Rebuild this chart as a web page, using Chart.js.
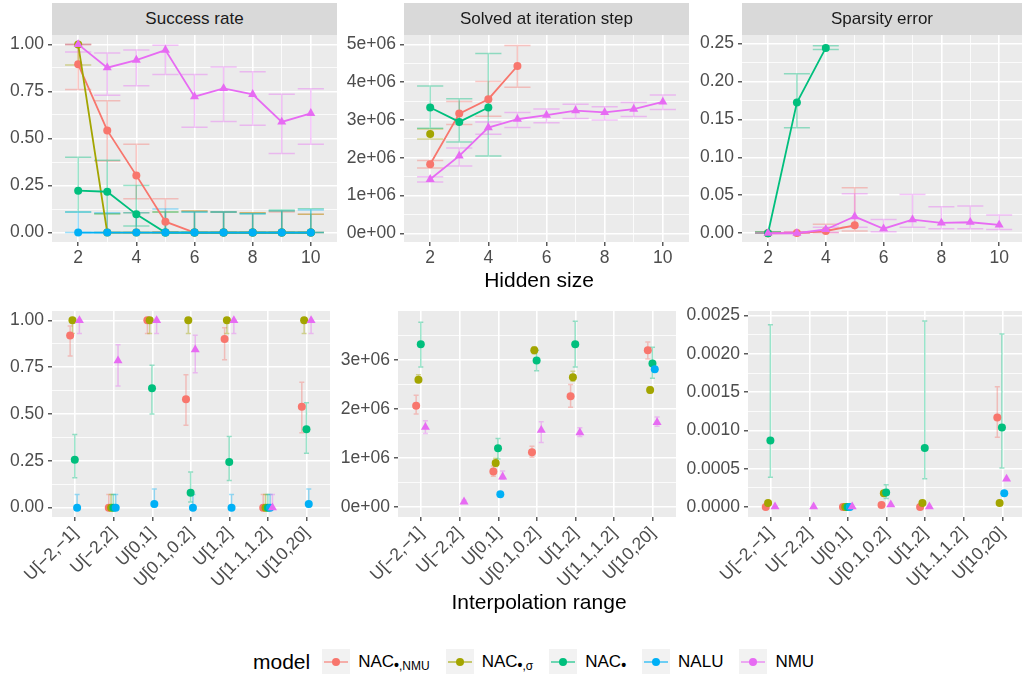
<!DOCTYPE html>
<html>
<head>
<meta charset="utf-8">
<script src="https://cdn.jsdelivr.net/npm/chart.js@4.4.1/dist/chart.umd.min.js"></script>
<style>
  body { margin: 0; background: #fff; font-family: "Liberation Sans", Arial, sans-serif; }
  #fig { position: relative; width: 1022px; height: 674px; overflow: hidden; }
  #fig canvas { position: absolute; }
  .strip { position: absolute; top: 3px; height: 32px; line-height: 32px; background: #d9d9d9; color: #1a1a1a; font-size: 17px; text-align: center; }
  .axtitle { position: absolute; font-size: 21px; line-height: 21px; color: #000; transform: translateX(-50%); white-space: nowrap; }
  #legend { position: absolute; left: 253px; top: 649px; height: 26px; display: flex; align-items: center; font-size: 17px; color: #000; }
  #legend .ltitle { font-size: 21px; margin-right: 12px; }
  #legend .key { position: relative; width: 28px; height: 26px; background: #f2f2f2; margin-right: 8px; }
  #legend .key i { position: absolute; display: block; }
  #legend .key .ln { left: 2px; right: 2px; top: 12px; height: 2px; opacity: 0.55; }
  #legend .key .dt { left: 10px; top: 9px; width: 8px; height: 8px; border-radius: 50%; }
  #legend .lab { margin-right: 16px; white-space: nowrap; }
  #legend sub { font-size: 12px; vertical-align: -3px; }
  #legend sub b { font-size: 14px; }
</style>
</head>
<body>
<div id="fig">
  <canvas id="cSucc" width="345" height="253" style="left:0;top:19px"></canvas>
  <canvas id="cStep" width="357" height="253" style="left:340px;top:19px"></canvas>
  <canvas id="cSparse" width="350" height="253" style="left:680px;top:19px"></canvas>
  <canvas id="cRangeSucc" width="338" height="307" style="left:0;top:295px"></canvas>
  <canvas id="cRangeStep" width="344" height="307" style="left:340px;top:295px"></canvas>
  <canvas id="cRangeSparse" width="350" height="307" style="left:680px;top:295px"></canvas>

  <div class="strip" style="left:52px;width:285px">Success rate</div>
  <div class="strip" style="left:404px;width:285px">Solved at iteration step</div>
  <div class="strip" style="left:742px;width:280px">Sparsity error</div>

  <div class="axtitle" style="left:539px;top:269px">Hidden size</div>
  <div class="axtitle" style="left:539px;top:591px">Interpolation range</div>

  <div id="legend">
    <span class="ltitle">model</span>
    <span class="key"><i class="ln" style="background:#F8766D"></i><i class="dt" style="background:#F8766D"></i></span>
    <span class="lab">NAC<sub><b>•</b>,NMU</sub></span>
    <span class="key"><i class="ln" style="background:#A3A500"></i><i class="dt" style="background:#A3A500"></i></span>
    <span class="lab">NAC<sub><b>•</b>,σ</sub></span>
    <span class="key"><i class="ln" style="background:#00BF7D"></i><i class="dt" style="background:#00BF7D"></i></span>
    <span class="lab">NAC<sub><b>•</b></sub></span>
    <span class="key"><i class="ln" style="background:#00B0F6"></i><i class="dt" style="background:#00B0F6"></i></span>
    <span class="lab">NALU</span>
    <span class="key"><i class="ln" style="background:#E76BF3"></i><i class="dt" style="background:#E76BF3"></i></span>
    <span class="lab">NMU</span>
  </div>
</div>

<script>
// ---- data ----
const hiddenSizes = [2, 3, 4, 5, 6, 7, 8, 9, 10];
const ranges = ['U[\u22122,\u22121]', 'U[\u22122,2]', 'U[0,1]', 'U[0.1,0.2]', 'U[1,2]', 'U[1.1,1.2]', 'U[10,20]'];
const models = ['NAC\u2022,NMU', 'NAC\u2022,\u03c3', 'NAC\u2022', 'NALU', 'NMU'];
const colors = ['#F8766D', '#A3A500', '#00BF7D', '#00B0F6', '#E76BF3'];
const dodge = [-0.13, -0.07, -0.01, 0.05, 0.11];

// one row per model, one column per hidden size
const successMean = [
    [0.894, 0.543, 0.304, 0.058, 0, 0, 0, 0, 0],
    [1, 0, 0, 0, 0, 0, 0, 0, 0],
    [0.223, 0.217, 0.097, 0, 0, 0, 0, 0, 0],
    [0, 0, 0, 0, 0, 0, 0, 0, 0],
    [1, 0.876, 0.917, 0.970, 0.722, 0.766, 0.735, 0.588, 0.634]
];
const successLo = [
    [0.76, 0.38, 0.18, 0.005, 0, 0, 0, 0, 0],
    [0.89, 0, 0, 0, 0, 0, 0, 0, 0],
    [0.11, 0.10, 0.035, 0, 0, 0, 0, 0, 0],
    [0, 0, 0, 0, 0, 0, 0, 0, 0],
    [0.96, 0.73, 0.78, 0.84, 0.56, 0.59, 0.57, 0.42, 0.47]
];
const successHi = [
    [1, 0.70, 0.47, 0.18, 0.115, 0.11, 0.105, 0.11, 0.097],
    [1, 0.10, 0.105, 0.11, 0.115, 0.11, 0.105, 0.115, 0.097],
    [0.40, 0.385, 0.25, 0.11, 0.11, 0.11, 0.10, 0.12, 0.127],
    [0.11, 0.105, 0.105, 0.125, 0.11, 0.11, 0.10, 0.115, 0.12],
    [1, 0.955, 0.97, 0.995, 0.84, 0.88, 0.855, 0.735, 0.765]
];

const stepMean = [
    [1.83e6, 3.17e6, 3.55e6, 4.43e6],
    [2.63e6],
    [3.33e6, 2.95e6, 3.33e6],
    [],
    [1.43e6, 2.05e6, 2.80e6, 3.02e6, 3.13e6, 3.25e6, 3.20e6, 3.29e6, 3.48e6]
];
const stepLo = [
    [1.73e6, 2.88e6, 3.10e6, 3.87e6],
    [2.50e6],
    [2.78e6, 2.42e6, 2.05e6],
    [],
    [1.36e6, 1.78e6, 2.62e6, 2.80e6, 2.93e6, 3.04e6, 3.00e6, 3.09e6, 3.28e6]
];
const stepHi = [
    [1.93e6, 3.49e6, 4.02e6, 4.97e6],
    [2.76e6],
    [3.90e6, 3.56e6, 4.76e6],
    [],
    [1.50e6, 2.26e6, 2.95e6, 3.20e6, 3.29e6, 3.42e6, 3.35e6, 3.46e6, 3.66e6]
];

const sparseMean = [
    [0, 0.0003, 0.003, 0.0105],
    [0],
    [0, 0.172, 0.244],
    [],
    [0, 0, 0.005, 0.022, 0.006, 0.018, 0.0136, 0.0145, 0.011]
];
const sparseLo = [
    [0, 0, 0.001, 0.003],
    [0],
    [0, 0.139, 0.242],
    [],
    [0, 0, 0.001, 0.008, 0.002, 0.008, 0.006, 0.006, 0.005]
];
const sparseHi = [
    [0.001, 0.002, 0.012, 0.060],
    [0.002],
    [0.002, 0.210, 0.247],
    [],
    [0.001, 0.002, 0.008, 0.052, 0.018, 0.051, 0.035, 0.036, 0.024]
];

// one row per model, one column per interpolation range
const rangeSuccMean = [
    [0.919, 0, 1, 0.579, 0.901, 0, 0.539],
    [1, 0, 1, 1, 1, 0, 1],
    [0.256, 0, 0.638, 0.079, 0.244, 0, 0.418],
    [0, 0, 0.02, 0, 0, 0, 0.02],
    [1, 0.785, 1, 0.844, 1, 0, 1]
];
const rangeSuccLo = [
    [0.81, 0, 0.93, 0.44, 0.79, 0, 0.40],
    [0.93, 0, 0.93, 0.93, 0.93, 0, 0.93],
    [0.16, 0, 0.50, 0.03, 0.145, 0, 0.29],
    [0, 0, 0.003, 0, 0, 0, 0.003],
    [0.93, 0.65, 0.93, 0.72, 0.93, 0, 0.93]
];
const rangeSuccHi = [
    [0.97, 0.07, 1, 0.71, 0.96, 0.07, 0.67],
    [1, 0.07, 1, 1, 1, 0.07, 1],
    [0.39, 0.07, 0.76, 0.19, 0.38, 0.07, 0.56],
    [0.07, 0.07, 0.10, 0.07, 0.07, 0.07, 0.10],
    [1, 0.87, 1, 0.92, 1, 0.07, 1]
];

const rangeStepMean = [
    [2.07e6, null, 0.73e6, 1.12e6, 2.26e6, null, 3.20e6],
    [2.60e6, null, 0.90e6, 3.20e6, 2.65e6, null, 2.39e6],
    [3.32e6, null, 1.20e6, 2.99e6, 3.32e6, null, 2.93e6],
    [null, null, 0.265e6, null, null, null, 2.81e6],
    [1.63e6, 0.11e6, 0.62e6, 1.57e6, 1.52e6, null, 1.73e6]
];
const rangeStepLo = [
    [1.90e6, null, 0.63e6, 1.02e6, 2.04e6, null, 3.02e6],
    [2.55e6, null, 0.83e6, 3.13e6, 2.57e6, null, 2.33e6],
    [2.86e6, null, 0.98e6, 2.78e6, 2.86e6, null, 2.63e6],
    [],
    [1.50e6, 0.08e6, 0.57e6, 1.32e6, 1.44e6, null, 1.65e6]
];
const rangeStepHi = [
    [2.28e6, null, 0.84e6, 1.24e6, 2.50e6, null, 3.37e6],
    [2.70e6, null, 1.00e6, 3.27e6, 2.77e6, null, 2.45e6],
    [3.77e6, null, 1.40e6, 3.20e6, 3.79e6, null, 3.26e6],
    [],
    [1.76e6, 0.14e6, 0.74e6, 1.74e6, 1.62e6, null, 1.84e6]
];

const rangeSparseMean = [
    [0, null, 0, 0.000026, 0, null, 0.00117],
    [0.000052, null, 0, 0.000179, 0.000052, null, 0.000052],
    [0.00087, null, 0, 0.00019, 0.00077, null, 0.00104],
    [null, null, 0, null, null, null, 0.000179],
    [0.000005, 0.000005, 0.000005, 0.00003, 0.000005, null, 0.000366]
];
const rangeSparseLo = [
    [null, null, null, null, null, null, 0.00091],
    [],
    [0.00039, null, null, 0.00011, 0.00037, null, 0.00051],
    [],
    []
];
const rangeSparseHi = [
    [null, null, null, null, null, null, 0.00157],
    [],
    [0.00238, null, null, 0.00029, 0.00243, null, 0.00226],
    [],
    []
];

// axis breaks and labels
const rateBreaks = [0, 0.25, 0.5, 0.75, 1];
const rateLabels = ['0.00', '0.25', '0.50', '0.75', '1.00'];
const stepBreaks = [0, 1e6, 2e6, 3e6, 4e6, 5e6];
const stepLabels = ['0e+00', '1e+06', '2e+06', '3e+06', '4e+06', '5e+06'];
const sparseBreaks = [0, 0.05, 0.1, 0.15, 0.2, 0.25];
const sparseLabels = ['0.00', '0.05', '0.10', '0.15', '0.20', '0.25'];
const rangeStepBreaks = [0, 1e6, 2e6, 3e6];
const rangeStepLabels = ['0e+00', '1e+06', '2e+06', '3e+06'];
const rangeSparseBreaks = [0, 0.0005, 0.001, 0.0015, 0.002, 0.0025];
const rangeSparseLabels = ['0.0000', '0.0005', '0.0010', '0.0015', '0.0020', '0.0025'];

// ---- plugins ----
const panelBg = {
    id: 'panelBg',
    beforeDraw(chart) {
        const { ctx, chartArea: a } = chart;
        ctx.save();
        ctx.fillStyle = '#EBEBEB';
        ctx.fillRect(a.left, a.top, a.width, a.height);
        ctx.restore();
    }
};

// errorbars, drawn under the points from each point's lo/hi
const errorBars = {
    id: 'errorBars',
    beforeDatasetsDraw(chart, args, opts) {
        const { ctx, scales: { x, y } } = chart;
        ctx.save();
        ctx.lineWidth = 1.5;
        chart.data.datasets.forEach(ds => {
            ctx.strokeStyle = ds.errColor;
            ds.data.forEach(p => {
                if (p.lo == null || p.hi == null) return;
                const px = x.getPixelForValue(p.x);
                const x0 = x.getPixelForValue(p.x - opts.cap), x1 = x.getPixelForValue(p.x + opts.cap);
                const y0 = y.getPixelForValue(p.lo), y1 = y.getPixelForValue(p.hi);
                ctx.beginPath();
                ctx.moveTo(px, y0); ctx.lineTo(px, y1);
                ctx.moveTo(x0, y0); ctx.lineTo(x1, y0);
                ctx.moveTo(x0, y1); ctx.lineTo(x1, y1);
                ctx.stroke();
            });
        });
        ctx.restore();
    }
};

Chart.register(panelBg, errorBars);

// ---- helpers ----
const tickFont = { family: '"Liberation Sans", Arial, sans-serif', size: 17.5 };
const gridOpts = {
    color: '#FFFFFF',
    lineWidth: c => (c.tick && c.tick.major ? 1.6 : 0.8),
    tickLength: 4,
    tickWidth: 1.2,
    tickColor: c => (c.tick && c.tick.major ? '#333333' : 'rgba(0,0,0,0)')
};

function withAlpha(hex, a) {
    const n = parseInt(hex.slice(1), 16);
    return `rgba(${n >> 16},${(n >> 8) & 255},${n & 255},${a})`;
}

function minorsOf(breaks, min, max) {
    const step = breaks[1] - breaks[0];
    const out = [];
    for (let v = breaks[0] - step / 2; v <= max; v += step) if (v >= min) out.push(v);
    return out;
}

function yAxis(min, max, breaks, labels, width) {
    const minors = minorsOf(breaks, min, max);
    return {
        type: 'linear', min, max, bounds: 'data',
        afterBuildTicks: s => {
            s.ticks = breaks.map(v => ({ value: v, major: true }))
                .concat(minors.map(v => ({ value: v, major: false })))
                .sort((a, b) => a.value - b.value);
        },
        afterFit: s => { s.width = width; },
        ticks: {
            autoSkip: false, padding: 4, color: '#4D4D4D', font: tickFont,
            callback: v => { const k = breaks.indexOf(v); return k < 0 ? '' : labels[k]; }
        },
        grid: gridOpts,
        border: { display: false }
    };
}

function hiddenAxis(min, max) {
    return {
        type: 'linear', min, max, bounds: 'data',
        afterBuildTicks: s => { s.ticks = hiddenSizes.map(v => ({ value: v, major: v % 2 === 0 })); },
        afterFit: s => { s.height = 30; },
        ticks: {
            autoSkip: false, maxRotation: 0, minRotation: 0, padding: 2, color: '#4D4D4D', font: tickFont,
            callback: v => (v % 2 === 0 ? String(v) : '')
        },
        grid: gridOpts,
        border: { display: false }
    };
}

function rangeAxis(min, max) {
    return {
        type: 'linear', min, max, bounds: 'data',
        afterBuildTicks: s => { s.ticks = ranges.map((r, i) => ({ value: i, major: true })); },
        afterFit: s => { s.height = 85; },
        ticks: {
            autoSkip: false, maxRotation: 45, minRotation: 45, padding: 2, color: '#4D4D4D', font: tickFont,
            callback: v => ranges[v]
        },
        grid: gridOpts,
        border: { display: false }
    };
}

function series(xs, mean, lo, hi, offsets, showLine) {
    return models.map((m, i) => ({
        label: m,
        data: xs.map((x, j) => ({
            x: x + (offsets ? offsets[i] : 0),
            y: mean[i][j] ?? null,
            lo: lo[i][j] ?? null,
            hi: hi[i][j] ?? null
        })).filter(p => p.y != null),
        showLine,
        borderColor: colors[i],
        backgroundColor: colors[i],
        borderWidth: 1.8,
        pointStyle: i === 4 ? 'triangle' : 'circle',
        pointRadius: i === 4 ? 5.2 : 4,
        pointBorderWidth: 0,
        order: models.length - i,
        errColor: withAlpha(colors[i], 0.4)
    }));
}

function panel(id, datasets, xAxis, yAxisCfg, cap) {
    return new Chart(document.getElementById(id), {
        type: 'line',
        data: { datasets },
        options: {
            responsive: false,
            animation: false,
            layout: { padding: { top: 16, right: 8, left: 0, bottom: 0 } },
            plugins: { legend: { display: false }, tooltip: { enabled: false }, errorBars: { cap } },
            scales: { x: xAxis, y: yAxisCfg }
        }
    });
}

// ---- hidden size row ----
panel('cSucc', series(hiddenSizes, successMean, successLo, successHi, null, true),
    hiddenAxis(1.1, 10.9), yAxis(-0.05, 1.05, rateBreaks, rateLabels, 52), 0.45);
panel('cStep', series(hiddenSizes, stepMean, stepLo, stepHi, null, true),
    hiddenAxis(1.1, 10.9), yAxis(-0.23e6, 5.25e6, stepBreaks, stepLabels, 64), 0.45);
panel('cSparse', series(hiddenSizes, sparseMean, sparseLo, sparseHi, null, true),
    hiddenAxis(1.1, 10.79), yAxis(-0.0115, 0.261, sparseBreaks, sparseLabels, 62), 0.45);

// ---- interpolation range row ----
const rangeIdx = ranges.map((r, i) => i);
panel('cRangeSucc', series(rangeIdx, rangeSuccMean, rangeSuccLo, rangeSuccHi, dodge, false),
    rangeAxis(-0.6, 6.6), yAxis(-0.05, 1.05, rateBreaks, rateLabels, 52), 0.065);
panel('cRangeStep', series(rangeIdx, rangeStepMean, rangeStepLo, rangeStepHi, dodge, false),
    rangeAxis(-0.6, 6.6), yAxis(-0.2e6, 4.0e6, rangeStepBreaks, rangeStepLabels, 58), 0.065);
panel('cRangeSparse', series(rangeIdx, rangeSparseMean, rangeSparseLo, rangeSparseHi, dodge, false),
    rangeAxis(-0.59, 6.51), yAxis(-0.00013, 0.00256, rangeSparseBreaks, rangeSparseLabels, 68), 0.065);
</script>
</body>
</html>
